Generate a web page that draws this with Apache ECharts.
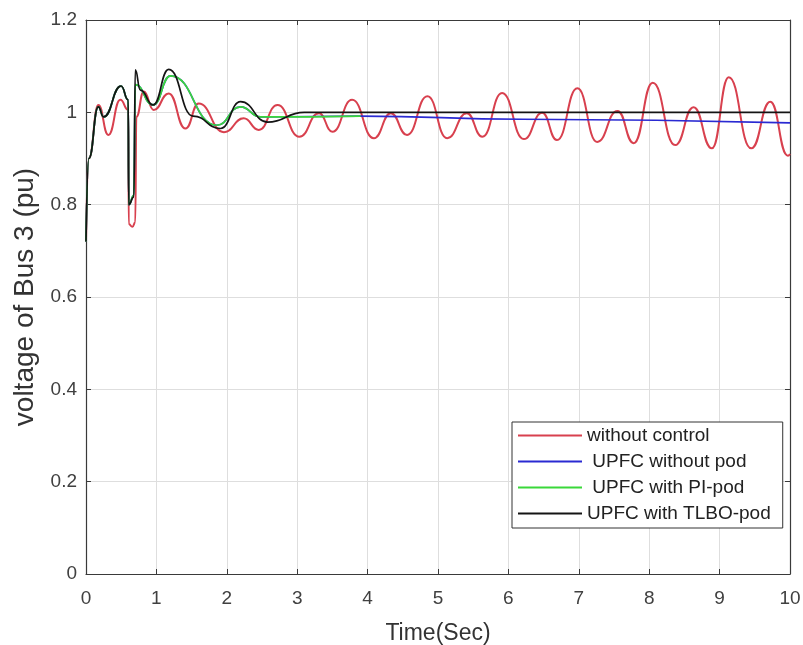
<!DOCTYPE html>
<html>
<head>
<meta charset="utf-8">
<script src="https://cdn.jsdelivr.net/npm/echarts@6/dist/echarts.min.js"></script>
<style>
  html, body { margin: 0; padding: 0; background: #fff; }
  #chart { width: 803px; height: 645px; }
</style>
</head>
<body>
<div id="chart"></div>
<script>
// [time (s), voltage (pu)], mostly peaks and troughs
const withoutControl = [
  [0, 0.72], [0.04, 0.9], [0.175, 1.016], [0.317, 0.951], [0.488, 1.027],
  [0.6, 1.005], [0.607, 0.758], [0.66, 0.752], [0.7, 0.762], [0.715, 0.99],
  [0.82, 1.045], [0.962, 1.005], [1.175, 1.041], [1.413, 0.965], [1.6, 1.019],
  [1.96, 0.957], [2.24, 0.987], [2.455, 0.962], [2.72, 1.016], [3.03, 0.947],
  [3.31, 0.998], [3.5, 0.958], [3.78, 1.027], [4.09, 0.944], [4.33, 0.998],
  [4.56, 0.951], [4.85, 1.035], [5.13, 0.944], [5.41, 0.998], [5.63, 0.947],
  [5.91, 1.042], [6.22, 0.942], [6.48, 0.999], [6.69, 0.94], [6.98, 1.052],
  [7.26, 0.936], [7.55, 1.003], [7.78, 0.933], [8.05, 1.064], [8.37, 0.929],
  [8.63, 1.011], [8.89, 0.922], [9.13, 1.076], [9.45, 0.922], [9.72, 1.023],
  [9.97, 0.906], [10, 0.91]
]
const upfcNoPod = [
  [0, 0.72], [0.04, 0.9], [0.175, 1.012], [0.25, 0.99], [0.498, 1.057],
  [0.6, 1.027], [0.607, 0.8], [0.68, 0.82], [0.7, 1.06], [0.953, 1.016],
  [1.2, 1.079], [1.86, 0.972], [2.195, 1.012], [2.48, 0.99], [3.9, 0.992],
  [6.2, 0.985], [10, 0.977]
]
const upfcPiPod = [
  [0, 0.72], [0.04, 0.9], [0.175, 1.012], [0.25, 0.99], [0.498, 1.057],
  [0.6, 1.027], [0.607, 0.8], [0.68, 0.82], [0.7, 1.06], [0.953, 1.016],
  [1.2, 1.079], [1.86, 0.972], [2.195, 1.012], [2.48, 0.99], [3.9, 0.992]
]
const upfcTlboPod = [
  [0, 0.72], [0.04, 0.9], [0.175, 1.012], [0.25, 0.99], [0.498, 1.057],
  [0.6, 1.027], [0.607, 0.8], [0.68, 0.817], [0.7, 1.092], [0.772, 1.048],
  [0.953, 1.016], [1.175, 1.093], [1.52, 0.992], [1.91, 0.965], [2.195, 1.023],
  [2.58, 0.979], [3.1, 1.0], [10, 1.0]
]
const seriesNames = ['without control', ' UPFC without pod', ' UPFC with PI-pod', 'UPFC with TLBO-pod']
const xTicks = [0, 1, 2, 3, 4, 5, 6, 7, 8, 9, 10]
const yTicks = [0, 0.2, 0.4, 0.6, 0.8, 1, 1.2]

const axisColor = '#3a3a3a'
const labelFont = 'Liberation Sans, Arial, sans-serif'

// top / right axes only close the box and carry inner ticks
function frameAxis(ticks, position) {
  return {
    type: 'value',
    position: position,
    min: ticks[0],
    max: ticks[ticks.length - 1],
    interval: ticks[1] - ticks[0],
    axisLine: { show: true, onZero: false, lineStyle: { color: axisColor, width: 1.2 } },
    axisTick: { show: true, inside: true, length: 5, lineStyle: { color: axisColor } },
    axisLabel: { show: false },
    splitLine: { show: false }
  }
}

function initChart() {
  const chart = echarts.init(document.getElementById('chart'), null, { renderer: 'canvas' })
  const lineSeries = (name, data, color, width) => ({
    name: name,
    type: 'line',
    data: data,
    symbol: 'none',
    smooth: 0.5,
    smoothMonotone: 'x',
    animation: false,
    lineStyle: { color: color, width: width },
    itemStyle: { color: color }
  })

  chart.setOption({
    backgroundColor: '#fff',
    grid: { left: 86, right: 13, top: 20, bottom: 71, outerBoundsMode: 'none' },
    legend: {
      left: 512,
      top: 422,
      orient: 'vertical',
      itemWidth: 64,
      itemHeight: 20,
      itemGap: 7,
      itemTextGap: 5,
      padding: [4, 12, 5, 5],
      backgroundColor: '#fff',
      borderColor: '#333',
      borderWidth: 1,
      itemStyle: { opacity: 0 },
      textStyle: { fontSize: 19, color: '#222', fontFamily: labelFont }
    },
    xAxis: [
      {
        type: 'value',
        min: xTicks[0],
        max: xTicks[xTicks.length - 1],
        interval: xTicks[1] - xTicks[0],
        name: 'Time(Sec)',
        nameLocation: 'middle',
        nameGap: 48,
        nameTextStyle: { fontSize: 23, color: '#333', fontFamily: labelFont },
        axisLine: { show: true, onZero: false, lineStyle: { color: axisColor, width: 1.2 } },
        axisTick: { show: true, inside: true, length: 5, lineStyle: { color: axisColor } },
        axisLabel: { fontSize: 19, color: '#404040', margin: 15, fontFamily: labelFont },
        splitLine: { show: true, lineStyle: { color: '#dedede', width: 1 } }
      },
      frameAxis(xTicks, 'top')
    ],
    yAxis: [
      {
        type: 'value',
        min: yTicks[0],
        max: yTicks[yTicks.length - 1],
        interval: 0.2,
        name: 'voltage of Bus 3 (pu)',
        nameLocation: 'middle',
        nameGap: 44,
        nameTextStyle: { fontSize: 28, color: '#333', fontFamily: labelFont },
        axisLine: { show: true, onZero: false, lineStyle: { color: axisColor, width: 1.2 } },
        axisTick: { show: true, inside: true, length: 5, lineStyle: { color: axisColor } },
        axisLabel: {
          fontSize: 19, color: '#404040', margin: 9, fontFamily: labelFont,
          formatter: v => String(+v.toFixed(1))
        },
        splitLine: { show: true, lineStyle: { color: '#dedede', width: 1 } }
      },
      frameAxis(yTicks, 'right')
    ],
    series: [
      lineSeries(seriesNames[0], withoutControl, '#d8404e', 2),
      lineSeries(seriesNames[1], upfcNoPod, '#2a2ad2', 1.7),
      lineSeries(seriesNames[2], upfcPiPod, '#3ad83a', 1.7),
      lineSeries(seriesNames[3], upfcTlboPod, '#141414', 1.7)
    ]
  })
}

initChart()
</script>
</body>
</html>
